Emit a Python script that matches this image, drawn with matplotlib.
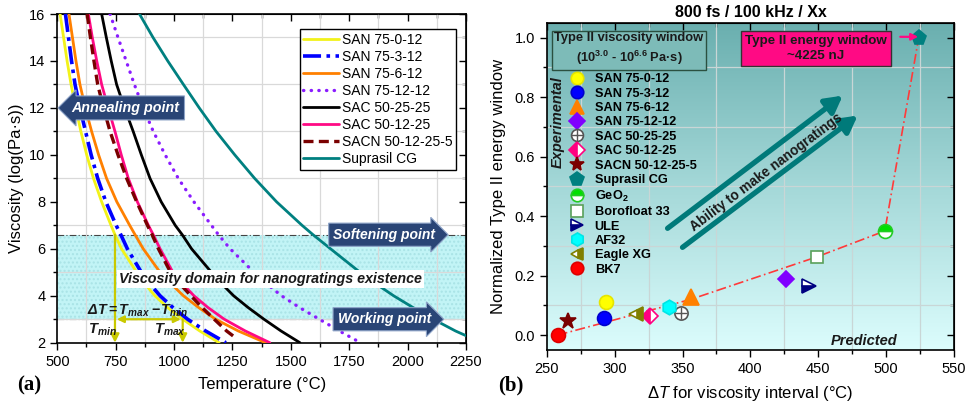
import numpy as np
import matplotlib
matplotlib.use('Agg')
import matplotlib.pyplot as plt
from matplotlib.ticker import MultipleLocator, NullFormatter
from matplotlib.legend_handler import HandlerTuple
from matplotlib.colors import LinearSegmentedColormap

plt.rcParams['font.family'] = ['Liberation Sans', 'DejaVu Sans']
plt.rcParams['mathtext.fontset'] = 'custom'
plt.rcParams['mathtext.rm'] = 'Liberation Sans'
plt.rcParams['mathtext.it'] = 'Liberation Sans:italic'
plt.rcParams['mathtext.bf'] = 'Liberation Sans:bold'
try:
    plt.rcParams['mathtext.bfit'] = 'Liberation Sans:bold:italic'
except Exception:
    pass

# ---------------- data: left panel (log viscosity vs temperature) ----------------
eta_levels = [16, 15, 14, 13, 12, 11, 10, 9, 8, 7, 6.6, 6, 5, 4.5, 4, 3.5, 3, 2.5, 2]
T_san_75_0_12 = [512, 527, 542, 559, 579, 601, 626, 655, 690, 730, 747, 775, 840, 876, 918, 972, 1037, 1110, 1193]
T_san_75_3_12 = [535, 548, 561, 576, 597, 621, 645, 673, 708, 752, 772, 800, 860, 897, 940, 995, 1058, 1135, 1222]
T_san_75_6_12 = [550, 565, 580, 597, 620, 647, 677, 711, 755, 810, 833, 868, 940, 988, 1040, 1105, 1178, 1275, 1392]
T_san_75_12_12 = [726, 760, 795, 830, 868, 911, 962, 1018, 1085, 1160, 1190, 1240, 1342, 1398, 1460, 1537, 1622, 1708, 1798]
T_sac_50_25_25 = [690, 710, 731, 754, 788, 825, 860, 897, 945, 1005, 1035, 1075, 1160, 1205, 1255, 1317, 1385, 1458, 1539]
T_sac_50_12_25 = [633, 650, 669, 690, 718, 747, 774, 804, 843, 890, 911, 940, 995, 1037, 1085, 1145, 1215, 1305, 1410]
eta_sacn = [16, 15, 14, 13, 12, 11, 10, 9, 8, 7, 6.6, 6, 5, 4.5, 4, 3.5, 3, 2.5, 2.25]
T_sacn_50_12_25_5 = [628, 642, 657, 673, 698, 726, 760, 797, 840, 886, 906, 933, 985, 1026, 1072, 1120, 1172, 1225, 1258]
eta_suprasil = [16, 15, 14, 13, 12, 11, 10, 9, 8, 7, 6.6, 6, 5, 4.5, 4, 3.5, 3, 2.5, 2.3]
T_suprasil = [852, 910, 973, 1040, 1108, 1180, 1260, 1345, 1439, 1548, 1595, 1670, 1796, 1866, 1940, 2023, 2110, 2205, 2250]

curve_labels = ['SAN 75-0-12', 'SAN 75-3-12', 'SAN 75-6-12', 'SAN 75-12-12',
                'SAC 50-25-25', 'SAC 50-12-25', 'SACN 50-12-25-5', 'Suprasil CG']

eta_annealing = 12.0
eta_softening = 6.6
eta_working = 3.0
T_min = 747
T_max = 1037

# ---------------- data: right panel ----------------
materials = ['SAN 75-0-12', 'SAN 75-3-12', 'SAN 75-6-12', 'SAN 75-12-12',
             'SAC 50-25-25', 'SAC 50-12-25', 'SACN 50-12-25-5', 'Suprasil CG',
             r'GeO$_\mathbf{2}$', 'Borofloat 33', 'ULE', 'AF32', 'Eagle XG', 'BK7']
delta_T = [294, 292, 356, 426, 349, 326, 266, 524, 499, 449, 443, 340, 316, 258]
norm_energy = [0.112, 0.059, 0.128, 0.188, 0.076, 0.065, 0.047, 1.0, 0.350,
               0.263, 0.164, 0.095, 0.070, 0.0]
trend_dT = [258, 356, 449, 499, 524]
trend_E = [0.0, 0.12, 0.263, 0.35, 1.0]

fig = plt.figure(figsize=(9.66, 4.04), dpi=100)


def inner_ticks(a, xmaj, xmin, ymaj, ymin):
    top = a.secondary_xaxis('top')
    top.xaxis.set_major_locator(MultipleLocator(xmaj))
    top.xaxis.set_minor_locator(MultipleLocator(xmin))
    top.xaxis.set_major_formatter(NullFormatter())
    top.tick_params(which='both', direction='in')
    top.tick_params(which='major', length=5, width=1)
    top.tick_params(which='minor', length=3, width=1)
    right = a.secondary_yaxis('right')
    right.yaxis.set_major_locator(MultipleLocator(ymaj))
    right.yaxis.set_minor_locator(MultipleLocator(ymin))
    right.yaxis.set_major_formatter(NullFormatter())
    right.tick_params(which='both', direction='in')
    right.tick_params(which='major', length=5, width=1)
    right.tick_params(which='minor', length=3, width=1)


# ======================= LEFT PANEL =======================
ax = fig.add_axes([0.0593, 0.1517, 0.4231, 0.8136])
ax.set_xlim(500, 2250)
ax.set_ylim(2, 16)

ax.axhspan(eta_working, eta_softening, facecolor='#c2f4f6', edgecolor='#a9e3e6',
           hatch='....', lw=0, zorder=0.5)
for e in (eta_softening, eta_working):
    ax.axhline(e, color='#444444', lw=0.8, ls=(0, (6, 2, 1, 2)), zorder=1)

styles = [
    dict(color='#f2f21a', lw=2.0, ls='-'),
    dict(color='#0000ff', lw=2.6, ls=(0, (5, 1.5, 1, 1.5))),
    dict(color='#ff8000', lw=2.0, ls='-'),
    dict(color='#8a1cff', lw=2.4, ls=(0, (0.1, 2.2)), dash_capstyle='round'),
    dict(color='#000000', lw=2.0, ls='-'),
    dict(color='#ff0a84', lw=2.0, ls='-'),
    dict(color='#7a0000', lw=2.4, ls=(0, (3, 1.6))),
    dict(color='#008080', lw=2.0, ls='-'),
]
T_series = [T_san_75_0_12, T_san_75_3_12, T_san_75_6_12, T_san_75_12_12,
            T_sac_50_25_25, T_sac_50_12_25, T_sacn_50_12_25_5, T_suprasil]
eta_series = [eta_levels] * 6 + [eta_sacn, eta_suprasil]
for T, e, lab, st in zip(T_series, eta_series, curve_labels, styles):
    ax.plot(T, e, label=lab, zorder=3, solid_capstyle='round', **st)

ax.xaxis.set_major_locator(MultipleLocator(250))
ax.xaxis.set_minor_locator(MultipleLocator(125))
ax.yaxis.set_major_locator(MultipleLocator(2))
ax.yaxis.set_minor_locator(MultipleLocator(1))
ax.grid(which='minor', color='#d9d9d9', lw=0.9, zorder=0.2)
ax.grid(which='major', visible=False)
ax.tick_params(which='both', direction='out', labelsize=10.5)
ax.tick_params(which='major', length=5, width=1)
ax.tick_params(which='minor', length=3, width=1)
inner_ticks(ax, 250, 125, 2, 1)
for sp in ax.spines.values():
    sp.set_linewidth(1.2)
ax.set_xlabel('Temperature (°C)', fontsize=12, labelpad=6)
ax.set_ylabel('Viscosity (log(Pa·s))', fontsize=12, labelpad=4)

leg = ax.legend(loc='upper right', bbox_to_anchor=(0.976, 0.953), fontsize=10,
                handlelength=2.6, handletextpad=0.2, labelspacing=0.22,
                borderpad=0.25, fancybox=False, framealpha=1,
                edgecolor='black', borderaxespad=0)
leg.get_frame().set_linewidth(1.0)
leg.set_zorder(6)

arrow_fc = '#2a4576'
arrow_ec = '#8ea4c8'
ax.text(792, eta_annealing, 'Annealing point', color='white', fontsize=10.3,
        fontweight='bold', style='italic', ha='center', va='center', zorder=7,
        bbox=dict(boxstyle='larrow,pad=0.35', fc=arrow_fc, ec=arrow_ec, lw=0.8))
for e, txt in ((eta_softening, 'Softening point'), (eta_working, 'Working point')):
    ax.text(1900, e, txt, color='white', fontsize=10, fontweight='bold',
            style='italic', ha='center', va='center', zorder=7,
            bbox=dict(boxstyle='rarrow,pad=0.33', fc=arrow_fc, ec=arrow_ec, lw=0.8))

ax.text(1412, 4.72, 'Viscosity domain for nanogratings existence', fontsize=10.3,
        fontweight='bold', style='italic', color='#1a1a1a', ha='center', va='center',
        zorder=5, bbox=dict(boxstyle='square,pad=0.15', fc='white', ec='none'))

ycol = '#c9c900'
ax.annotate('', xy=(T_min, 2.0), xytext=(T_min, eta_softening),
            arrowprops=dict(arrowstyle='-|>,head_length=0.5,head_width=0.25',
                            color=ycol, lw=1.6, shrinkA=0, shrinkB=0), zorder=4)
ax.annotate('', xy=(T_max, 2.0), xytext=(T_max, eta_working),
            arrowprops=dict(arrowstyle='-|>,head_length=0.5,head_width=0.25',
                            color=ycol, lw=1.6, shrinkA=0, shrinkB=0), zorder=4)
ax.annotate('', xy=(T_max - 8, eta_working), xytext=(T_min + 8, eta_working),
            arrowprops=dict(arrowstyle='<|-|>,head_length=0.4,head_width=0.2',
                            color=ycol, lw=1.6, shrinkA=0, shrinkB=0), zorder=4)
ax.text(628, 3.36, r'$\mathbfit{\Delta T}$$\mathbf{=}$$\mathbfit{T_{max}}$ $\mathbf{-}$$\mathbfit{T_{min}}$',
        fontsize=10.3, color='#1a1a1a', ha='left', va='center', zorder=5)
ax.text(630, 2.55, r'$\mathbfit{T_{min}}$', fontsize=10.5, color='#1a1a1a',
        ha='left', va='center', zorder=5)
ax.text(912, 2.55, r'$\mathbfit{T_{max}}$', fontsize=10.5, color='#1a1a1a',
        ha='left', va='center', zorder=5)

fig.text(0.018, 0.045, '(a)', fontsize=15, fontweight='bold',
         family='Liberation Serif', ha='left', va='center')

# ======================= RIGHT PANEL =======================
bx = fig.add_axes([0.566, 0.1337, 0.4216, 0.810])
bx.set_xlim(250, 550)
bx.set_ylim(-0.05, 1.05)
cmap = LinearSegmentedColormap.from_list('bg', ['#6aafaf', '#a4d8d8', '#dcfdfd'])
grad = np.linspace(0, 1, 256).reshape(-1, 1)
bx.imshow(grad, cmap=cmap, extent=(250, 550, -0.05, 1.05), aspect='auto',
          origin='upper', zorder=0)

bx.xaxis.set_major_locator(MultipleLocator(50))
bx.xaxis.set_minor_locator(MultipleLocator(25))
bx.yaxis.set_major_locator(MultipleLocator(0.2))
bx.yaxis.set_minor_locator(MultipleLocator(0.1))
bx.grid(which='minor', color='#c9d6d6', lw=0.9, zorder=0.5)
bx.grid(which='major', visible=False)
bx.tick_params(which='both', direction='out', labelsize=10.5)
bx.tick_params(which='major', length=5, width=1)
bx.tick_params(which='minor', length=3, width=1)
inner_ticks(bx, 50, 25, 0.2, 0.1)
for sp in bx.spines.values():
    sp.set_linewidth(1.2)
bx.set_xlabel(r'$\mathit{\Delta T}$ for viscosity interval (°C)', fontsize=12, labelpad=6)
bx.set_ylabel('Normalized Type II energy window', fontsize=12, labelpad=6)
bx.set_title('800 fs / 100 kHz / Xx', fontsize=11.5, fontweight='bold', pad=4)

bx.plot(trend_dT, trend_E, color='#ff3a3a', lw=1.2, ls=(0, (6, 2, 1, 2)), zorder=2)

mstyles = [
    dict(marker='o', mfc='#ffff00', mec='#e5e500', ms=10),
    dict(marker='o', mfc='#0000ff', mec='#0000cc', ms=10),
    dict(marker='^', mfc='#ff8000', mec='#ff8000', ms=11),
    dict(marker='D', mfc='#8000ff', mec='#8000ff', ms=8.5),
    dict(marker='o', mfc='white', mec='#555555', ms=9.5),
    dict(marker='D', mfc='#ff0080', mfcalt='white', mec='#ff0080', ms=8.5, fillstyle='left'),
    dict(marker='*', mfc='#7a0000', mec='#7a0000', ms=12),
    dict(marker='p', mfc='#008080', mec='#008080', ms=11),
    dict(marker='o', mfc='#00e000', mfcalt='white', mec='#22cc22', ms=10, fillstyle='top'),
    dict(marker='s', mfc='white', mec='#5aa05a', ms=9),
    dict(marker='>', mfc='#000080', mfcalt='white', mec='#000080', ms=10, fillstyle='bottom'),
    dict(marker='h', mfc='#00ffff', mec='#00e5e5', ms=10.5),
    dict(marker='<', mfc='#808000', mfcalt='white', mec='#808000', ms=10, fillstyle='right'),
    dict(marker='o', mfc='#ff0000', mec='#dd0000', ms=10),
]
handles = []
for x, y, lab, st in zip(delta_T, norm_energy, materials, mstyles):
    h, = bx.plot([x], [y], ls='none', zorder=4, mew=1.2, **st)
    if lab == 'SAC 50-25-25':
        p, = bx.plot([x], [y], ls='none', marker='+', ms=9, mew=1.0, color='#555555', zorder=5)
        handles.append((h, p))
    else:
        handles.append(h)

bleg = bx.legend(handles, materials, loc='upper left', bbox_to_anchor=(0.058, 0.846),
                 frameon=False, prop=dict(weight='bold', size=9.2),
                 handlelength=1.0, handletextpad=0.9, labelspacing=0.19,
                 borderaxespad=0, borderpad=0, markerscale=0.9,
                 handler_map={tuple: HandlerTuple(ndivide=1, pad=0)})

bx.text(0.202, 0.918, 'Type II viscosity window\n' + r'(10$^{\mathbf{3.0}}$ - 10$^{\mathbf{6.6}}$ Pa·s)',
        transform=bx.transAxes, fontsize=9.3, fontweight='bold', ha='center', va='center',
        color='#1a1a1a', linespacing=1.35, zorder=6,
        bbox=dict(boxstyle='square,pad=0.22', fc='#7dbbb8', ec='#2b5040', lw=1.0))
bx.text(0.661, 0.921, 'Type II energy window\n~4225 nJ', transform=bx.transAxes,
        fontsize=9.6, fontweight='bold', ha='center', va='center', color='#1a1a1a',
        linespacing=1.35, zorder=6,
        bbox=dict(boxstyle='square,pad=0.3', fc='#ff0a84', ec='#333333', lw=1.0))
bx.annotate('', xy=(0.912, 0.957), xytext=(0.868, 0.957), xycoords='axes fraction',
            arrowprops=dict(arrowstyle='-|>,head_length=0.4,head_width=0.2',
                            color='#ff0a84', lw=1.6, shrinkA=0, shrinkB=0), zorder=6)

tcol = '#007a7a'
bx.annotate('', xy=(468, 0.805), xytext=(339, 0.359),
            arrowprops=dict(arrowstyle='-|>,head_length=1.0,head_width=0.55',
                            color=tcol, lw=3.8, shrinkA=0, shrinkB=0), zorder=3)
bx.annotate('', xy=(479, 0.738), xytext=(350, 0.295),
            arrowprops=dict(arrowstyle='-|>,head_length=1.0,head_width=0.55',
                            color=tcol, lw=3.8, shrinkA=0, shrinkB=0), zorder=3)
bx.text(412, 0.548, 'Ability to make nanogratings', fontsize=9.8, fontweight='bold',
        color='#1a1a1a', rotation=37, rotation_mode='anchor', ha='center', va='center',
        zorder=4)

bx.text(0.026, 0.695, 'Experimental', transform=bx.transAxes, rotation=90,
        fontsize=10.5, fontweight='bold', style='italic', ha='center', va='center',
        color='#1a1a1a', zorder=4)
bx.text(0.78, 0.028, 'Predicted', transform=bx.transAxes, fontsize=10.5,
        fontweight='bold', style='italic', ha='center', va='center', color='#1a1a1a',
        zorder=4)

fig.text(0.516, 0.045, '(b)', fontsize=15, fontweight='bold',
         family='Liberation Serif', ha='left', va='center')

fig.savefig('out.png', dpi=100)
